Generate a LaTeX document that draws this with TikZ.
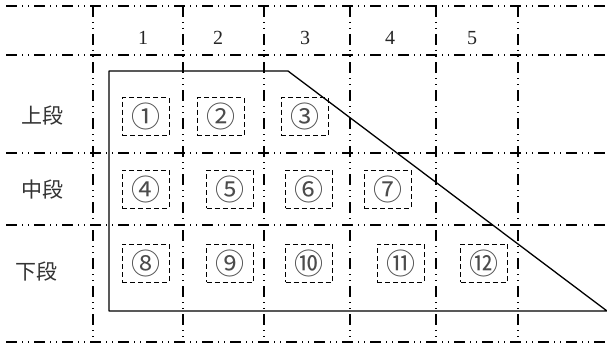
\documentclass[tikz,border=0pt]{standalone}
\usepackage{fontspec}
\newfontfamily\jp{Noto Sans CJK JP}
\newfontfamily\chiffre{Liberation Serif}

\begin{document}
\begin{tikzpicture}[x=1pt,y=-1pt, line join=round,
        grille/.style={line width=1.1pt, dash pattern=on 11pt off 5pt on 1pt off 5pt on 1pt off 5pt},
        case/.style={draw, line width=1pt, dash pattern=on 5pt off 3pt, minimum width=47pt, minimum height=38pt, inner sep=0pt, font=\jp\fontsize{29}{30}\selectfont, text=black!70},
        etage/.style={font=\jp\fontsize{21}{22}\selectfont, text=black!80},
        rang/.style={font=\chiffre\fontsize{20}{21}\selectfont, text=black!85}]
        \useasboundingbox (0,0) rectangle (607,345);
        % quadrillage
        \foreach \y in {6,55,153,225,342} \draw[grille] (6,\y)--(607,\y);
        \foreach \x in {93,183,264,350,436,518} \draw[grille] (\x,6)--(\x,342);
        % numeros de colonnes et etages
        \node[rang] (c1) at (143,38) {1};
        \node[rang] (c2) at (218,38) {2};
        \node[rang] (c3) at (305,38) {3};
        \node[rang] (c4) at (390,38) {4};
        \node[rang] (c5) at (472,38) {5};
        \node[etage] (haut) at (42,116) {上段};
        \node[etage] (milieu) at (42,190) {中段};
        \node[etage] (bas) at (37,272) {下段};
        % contour
        \draw[line width=1.3pt] (109,71)--(288,71)--(607,311)--(109,311)--cycle;
        % cases
        \node[case] (p1) at (145.5,116.5) {①};
        \node[case] (p2) at (220.5,116.5) {②};
        \node[case] (p3) at (304.5,116.5) {③};
        \node[case] (p4) at (145.5,189) {④};
        \node[case] (p5) at (230,189) {⑤};
        \node[case] (p6) at (309,189) {⑥};
        \node[case] (p7) at (387.5,189) {⑦};
        \node[case] (p8) at (145.5,263) {⑧};
        \node[case] (p9) at (230,263) {⑨};
        \node[case] (p10) at (309,263) {⑩};
        \node[case] (p11) at (400.5,263) {⑪};
        \node[case] (p12) at (484,263) {⑫};
\end{tikzpicture}
\end{document}
